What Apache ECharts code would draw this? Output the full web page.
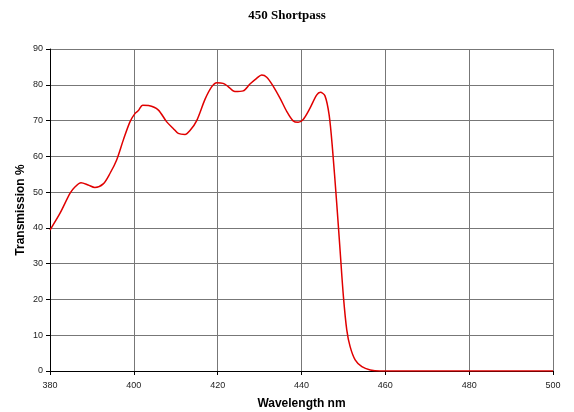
<!DOCTYPE html>
<html>
<head>
<meta charset="utf-8">
<script src="https://cdn.jsdelivr.net/npm/echarts@6/dist/echarts.min.js"></script>
<style>html,body{margin:0;padding:0;background:#fff}#c{width:574px;height:412px}</style>
</head>
<body>
<div id="c"></div>
<script>
var wavelength = [380,382.4,384.8,386,387.4,389.1,390.7,392.7,394.3,395.9,397.5,399.1,400.3,401.1,402.1,403.5,405.8,407.8,409.4,410.6,412.2,413.4,415,417,418.6,419.8,421.3,422.5,424.1,426.1,427.7,429.3,430.5,431.7,433.3,434.9,436.5,438,439.2,440.4,442,443.6,444.5,445.6,446.6,447.4,448.4,449.2,450,450.8,451.6,452.8,454.4,456.4,458.7,470,480,490,500];
var transmission = [39.4,44.1,49.7,51.5,52.6,52.0,51.3,52.3,55.2,59.0,64.6,69.7,72.0,72.8,74.3,74.2,73.0,69.7,67.8,66.4,66.1,67.2,70.0,76.0,79.5,80.6,80.4,79.5,78.1,78.3,80.2,81.8,82.7,82.1,79.5,76.2,72.5,69.9,69.5,70.3,73.4,77.1,77.9,76.9,71.5,62.0,46.9,33.8,20.8,11.5,6.8,3.1,1.2,0.3,0,0,0,0,0];
var xTicks = {min:380, max:500, step:20};
var yTicks = {min:0, max:90, step:10};

var data = wavelength.map(function(w,i){return [w, transmission[i]];});
var chart = echarts.init(document.getElementById('c'));
chart.setOption({
  animation:false,
  backgroundColor:'#fff',
  title:{text:'450 Shortpass', left:'center', top:4,
    textStyle:{fontFamily:'Liberation Serif', fontWeight:'bold', fontSize:13, color:'#000'}},
  grid:{left:50, right:21, top:49, bottom:41, outerBoundsMode:'none', containLabel:false},
  xAxis:{type:'value', min:xTicks.min, max:xTicks.max, interval:xTicks.step,
    name:'Wavelength nm', nameLocation:'middle', nameGap:27, nameMoveOverlap:false,
    nameTextStyle:{fontFamily:'Liberation Sans', fontWeight:'bold', fontSize:12, color:'#000'},
    axisLine:{show:true, lineStyle:{color:'#000', width:1}},
    axisTick:{show:true, length:4, lineStyle:{color:'#000'}},
    axisLabel:{fontFamily:'Liberation Sans', fontSize:9, color:'#222', margin:10},
    splitLine:{show:true, lineStyle:{color:'#777', width:1}}},
  yAxis:{type:'value', min:yTicks.min, max:yTicks.max, interval:yTicks.step,
    name:'Transmission %', nameLocation:'middle', nameGap:23, nameMoveOverlap:false,
    nameTextStyle:{fontFamily:'Liberation Sans', fontWeight:'bold', fontSize:12, color:'#000'},
    axisLine:{show:true, lineStyle:{color:'#000', width:1}},
    axisTick:{show:true, length:4, lineStyle:{color:'#000'}},
    axisLabel:{fontFamily:'Liberation Sans', fontSize:9, color:'#222', margin:7},
    splitLine:{show:true, lineStyle:{color:'#777', width:1}}},
  series:[{type:'line', data:data, smooth:0.3, showSymbol:false,
    lineStyle:{color:'#e00000', width:1.5}}]
});
</script>
</body>
</html>
